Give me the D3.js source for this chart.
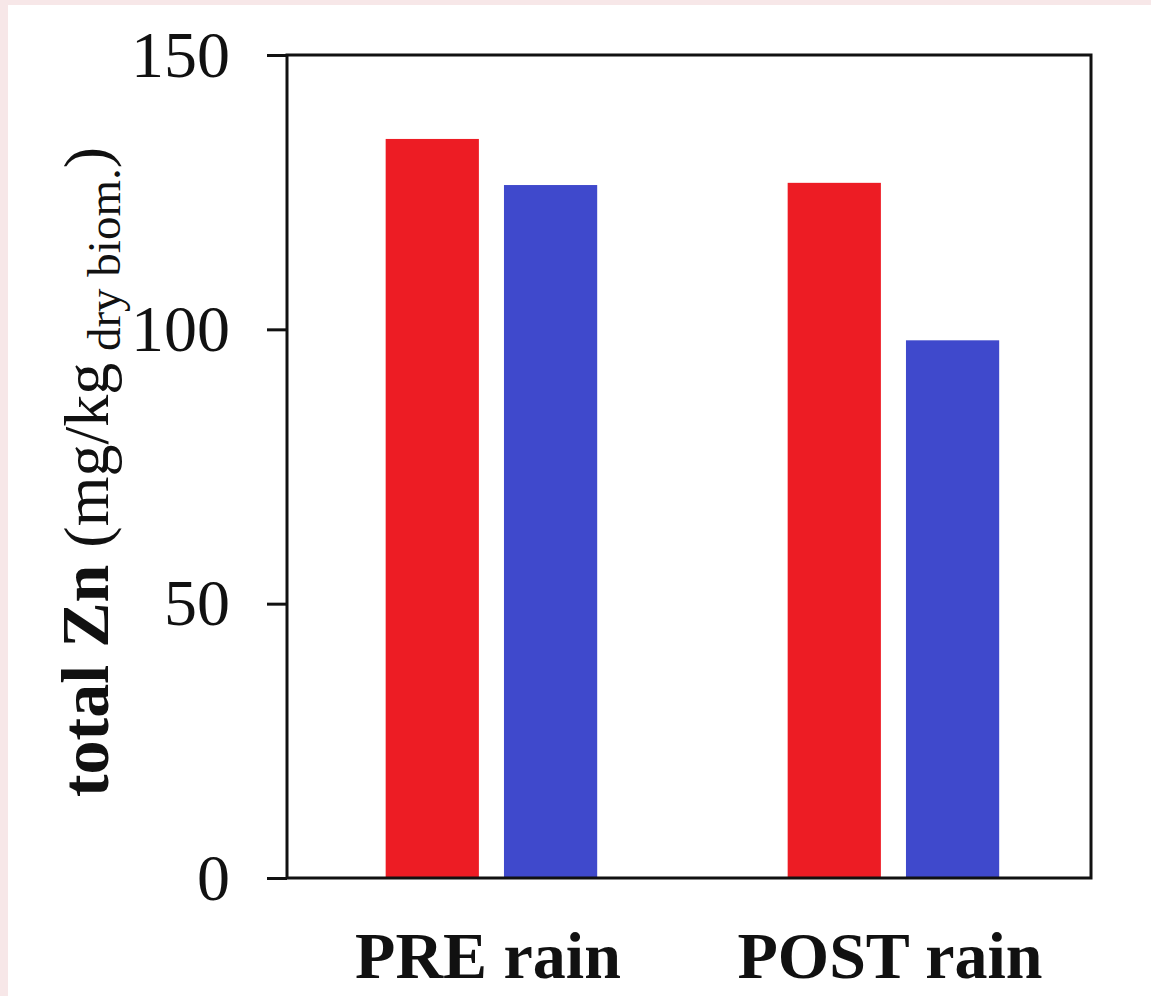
<!DOCTYPE html>
<html>
<head>
<meta charset="utf-8">
<script src="https://cdn.jsdelivr.net/npm/d3@7"></script>
<style>
  body { margin: 0; background: #f7e7e8; }
  svg { display: block; }
</style>
</head>
<body>
<div id="chart"></div>
<script>
let width = 1151;
let height = 996;

// data
let groups = ["PRE rain", "POST rain"];
let series = ["s1", "s2"];
let preValues = [134.7, 126.3];
let postValues = [126.7, 98.0];
let yTicks = [0, 50, 100, 150];
let seriesColors = ["#ed1c24", "#3f49cc"];

let allValues = [preValues, postValues];

let margin = {left: 287, top: 55, right: 1091, bottom: 878};
let serif = "'Liberation Serif', 'Times New Roman', Times, serif";

let svg = d3.select("#chart")
  .append("svg")
  .attr("width", width)
  .attr("height", height);

// pink frame + white page
svg.append("rect").attr("width", width).attr("height", height).attr("fill", "#f7e7e8");
svg.append("rect").attr("x", 8).attr("y", 5).attr("width", width - 8).attr("height", height - 5).attr("fill", "#fff");

let x0 = d3.scaleBand()
  .domain(groups)
  .range([margin.left, margin.right])
  .padding(0);

let x1 = d3.scaleBand()
  .domain(series)
  .range([0, x0.bandwidth()])
  .paddingInner(0.212)
  .paddingOuter(0.805)
  .align(0.518);

let y = d3.scaleLinear()
  .domain([0, 150])
  .range([margin.bottom, margin.top]);

let color = d3.scaleOrdinal().domain(series).range(seriesColors);

let data = groups.map((g, i) => ({
  group: g,
  values: series.map((s, j) => ({ key: s, value: allValues[i][j] }))
}));

let gGroups = svg.selectAll("g.grp")
  .data(data)
  .enter()
  .append("g")
  .attr("class", "grp")
  .attr("transform", d => "translate(" + x0(d.group) + ",0)");

gGroups.selectAll("rect")
  .data(d => d.values)
  .enter()
  .append("rect")
  .attr("x", d => x1(d.key))
  .attr("width", x1.bandwidth())
  .attr("y", d => y(d.value))
  .attr("height", d => y(0) - y(d.value))
  .attr("fill", d => color(d.key));

// frame
svg.append("rect")
  .attr("x", margin.left)
  .attr("y", margin.top)
  .attr("width", margin.right - margin.left)
  .attr("height", margin.bottom - margin.top)
  .attr("fill", "none")
  .attr("stroke", "#111")
  .attr("stroke-width", 3);

// y axis
let yAxis = svg.append("g")
  .attr("transform", "translate(" + margin.left + ",0)")
  .call(d3.axisLeft(y).tickValues(yTicks).tickSize(20).tickPadding(37));

yAxis.select(".domain").remove();
yAxis.selectAll(".tick line").attr("stroke", "#111").attr("stroke-width", 3);
yAxis.selectAll(".tick text")
  .attr("font-family", serif)
  .attr("font-size", 66)
  .attr("fill", "#111");

// x labels
svg.selectAll("text.xlab")
  .data(groups)
  .enter()
  .append("text")
  .attr("class", "xlab")
  .attr("x", d => x0(d) + x0.bandwidth() / 2)
  .attr("y", 978)
  .attr("text-anchor", "middle")
  .attr("font-family", serif)
  .attr("font-weight", "bold")
  .attr("font-size", 66)
  .attr("fill", "#111")
  .text(d => d);

// y title
let yt = svg.append("text")
  .attr("transform", "translate(108,472) rotate(-90)")
  .attr("text-anchor", "middle")
  .attr("font-family", serif)
  .attr("fill", "#111");

yt.append("tspan").attr("font-weight", "bold").attr("font-size", 68).text("total Zn ");
yt.append("tspan").attr("font-size", 64).text("(mg/kg");
yt.append("tspan").attr("font-size", 47).attr("dy", 12).text(" dry biom.");
yt.append("tspan").attr("font-size", 64).attr("dy", -12).text(")");
</script>
</body>
</html>
